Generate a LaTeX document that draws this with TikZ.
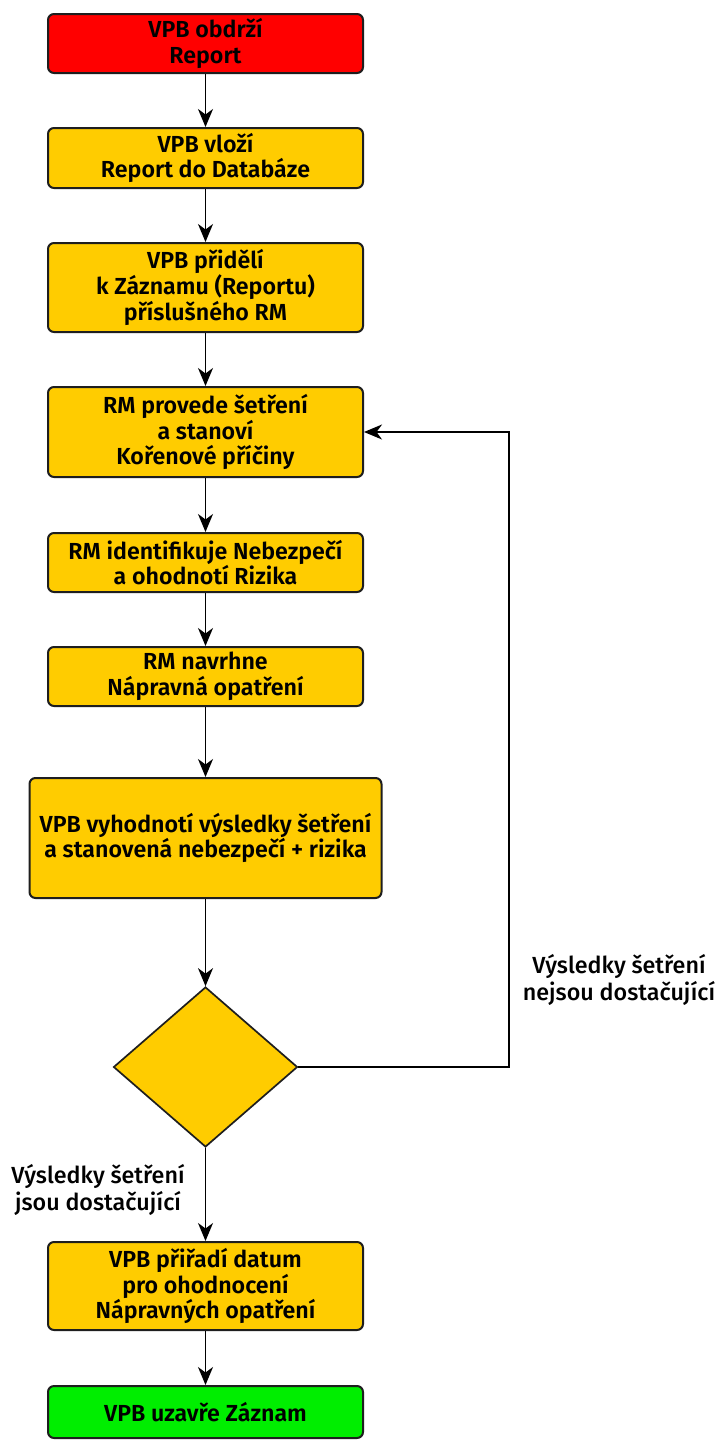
\documentclass[tikz,border=0pt]{standalone}
\usepackage{fontspec}
\setmainfont{Fira Sans}
\newfontfamily\boxfont{Fira Sans SemiBold}
\newfontfamily\labelfont{Fira Sans Medium}
\usetikzlibrary{shapes.geometric,arrows.meta}

\definecolor{stepred}{RGB}{255,0,0}
\definecolor{stepyellow}{RGB}{255,204,0}
\definecolor{stepgreen}{RGB}{0,238,0}
\definecolor{edge}{RGB}{30,30,30}

\tikzset{
  stepbox/.style={draw=edge, line width=2pt, rounded corners=6pt,
    fill=stepyellow, align=center, inner sep=0pt,
    minimum width=315pt,
    font=\boxfont\fontsize{23.2pt}{25.8pt}\selectfont},
  decision/.style={draw=edge, line width=1.7pt, shape=diamond, fill=stepyellow,
    inner sep=0pt, minimum width=184pt, minimum height=160pt},
  flowlabel/.style={align=center, inner sep=0pt,
    font=\labelfont\fontsize{23.3pt}{26.5pt}\selectfont},
  arr/.style={draw=black, line width=1.6pt,
    -{Stealth[length=18pt,width=15pt,inset=5.5pt]}},
}

\begin{document}
\begin{tikzpicture}[x=1pt,y=-1pt]
  % page frame
  \path[fill=white] (0,0) rectangle (719,1441);
  \useasboundingbox (0,0) rectangle (719,1441);

  % process steps
  \node[stepbox, fill=stepred, minimum height=59pt] (n1) at (205.5,43.5)
    {VPB obdrží\\Report};
  \node[stepbox, minimum height=60pt] (n2) at (205.5,158)
    {VPB vloží\\Report do Databáze};
  \node[stepbox, minimum height=89pt] (n3) at (205.5,287.5)
    {VPB přidělí\\k Záznamu (Reportu)\\příslušného RM};
  \node[stepbox, minimum height=90pt] (n4) at (205.5,432)
    {RM provede šetření\\a stanoví\\Kořenové příčiny};
  \node[stepbox, minimum height=59pt] (n5) at (205.5,562.5)
    {RM identifikuje Nebezpečí\\a ohodnotí Rizika};
  \node[stepbox, minimum height=59pt] (n6) at (205.5,676.5)
    {RM navrhne\\Nápravná opatření};
  \node[stepbox, minimum width=352pt, minimum height=120pt] (n7) at (205.5,838)
    {VPB vyhodnotí výsledky šetření\\a stanovená nebezpečí + rizika};
  \node[decision] (d) at (205.5,1067) {};
  \node[stepbox, minimum height=88pt] (n8) at (205.5,1286)
    {VPB přiřadí datum\\pro ohodnocení\\Nápravných opatření};
  \node[stepbox, fill=stepgreen, minimum height=52pt] (n9) at (205.5,1412)
    {VPB uzavře Záznam};

  % branch labels
  \node[flowlabel] (lno) at (619,980)
    {Výsledky šetření\\nejsou dostačující};
  \node[flowlabel] (lyes) at (98,1190)
    {Výsledky šetření\\jsou dostačující};

  % main flow
  \draw[arr] (n1) -- (n2);
  \draw[arr] (n2) -- (n3);
  \draw[arr] (n3) -- (n4);
  \draw[arr] (n4) -- (n5);
  \draw[arr] (n5) -- (n6);
  \draw[arr] (n6) -- (n7);
  \draw[arr] (n7) -- (d);
  \draw[arr] (d) -- (n8);
  \draw[arr] (n8) -- (n9);

  % loop back when the results are not sufficient
  \coordinate (loopa) at (509,1067);
  \coordinate (loopb) at (509,432);
  \draw[arr] (d.east) -- (loopa) -- (loopb) -- (n4.east);
\end{tikzpicture}
\end{document}
